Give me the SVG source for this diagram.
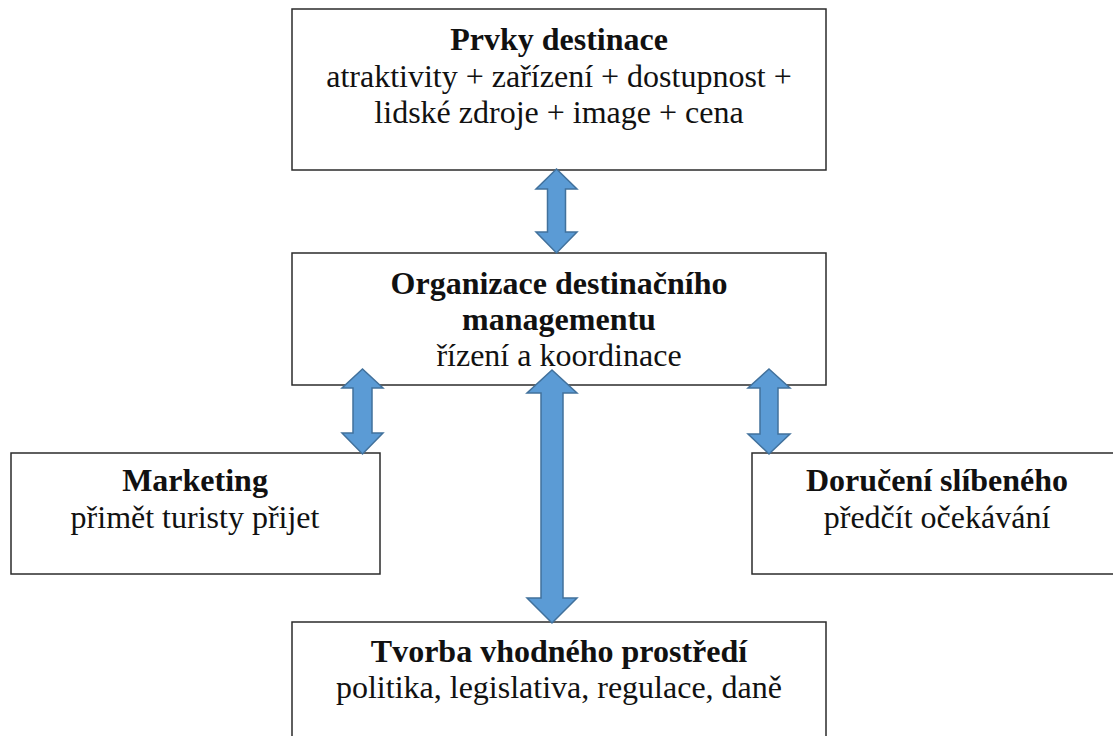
<svg xmlns="http://www.w3.org/2000/svg" width="1113" height="736" viewBox="0 0 1113 736">
  <style>
    .box { fill: #ffffff; stroke: #2b2b2b; stroke-width: 1.5; }
    .arrow { fill: #5b9bd5; stroke: #41719c; stroke-width: 1.5; stroke-linejoin: miter; }
    text { font-family: "Liberation Serif", "Times New Roman", serif; font-size: 32px; fill: #111111; text-anchor: middle; }
    .title { font-weight: bold; }
  </style>
  <rect width="1113" height="736" fill="#ffffff"/>

  <g id="prvky-destinace">
    <rect class="box" x="292" y="9" width="534" height="161"/>
    <text class="title" x="559" y="50">Prvky destinace</text>
    <text x="559" y="87">atraktivity + zařízení + dostupnost +</text>
    <text x="559" y="123">lidské zdroje + image + cena</text>
  </g>

  <g id="organizace">
    <rect class="box" x="292" y="253" width="534" height="132"/>
    <text class="title" x="559" y="294">Organizace destinačního</text>
    <text class="title" x="559" y="330">managementu</text>
    <text x="559" y="366">řízení a koordinace</text>
  </g>

  <g id="marketing">
    <rect class="box" x="11" y="453" width="369" height="121"/>
    <text class="title" x="195" y="491">Marketing</text>
    <text x="195" y="528">přimět turisty přijet</text>
  </g>

  <g id="doruceni">
    <rect class="box" x="752" y="453" width="370" height="121"/>
    <text class="title" x="937" y="491">Doručení slíbeného</text>
    <text x="937" y="528">předčít očekávání</text>
  </g>

  <g id="tvorba">
    <rect class="box" x="292" y="622" width="534" height="130"/>
    <text class="title" x="559" y="662">Tvorba vhodného prostředí</text>
    <text x="559" y="698">politika, legislativa, regulace, daně</text>
  </g>

  <g id="connectors">
    <!-- double-headed block arrows drawn over the box edges -->
    <path class="arrow" d="M556.5,169 L577,189 L565.5,189 L565.5,232 L577,232 L556.5,253 L536,232 L547.5,232 L547.5,189 L536,189 Z"/>
    <path class="arrow" d="M362.5,369 L383,388 L372,388 L372,433 L383,433 L362.5,454 L342,433 L353,433 L353,388 L342,388 Z"/>
    <path class="arrow" d="M552,370 L577,393 L563,393 L563,598 L577,598 L552,623 L527,598 L541,598 L541,393 L527,393 Z"/>
    <path class="arrow" d="M769,369 L790,388 L778,388 L778,434 L790,434 L769,454 L748,434 L760,434 L760,388 L748,388 Z"/>
  </g>
</svg>
